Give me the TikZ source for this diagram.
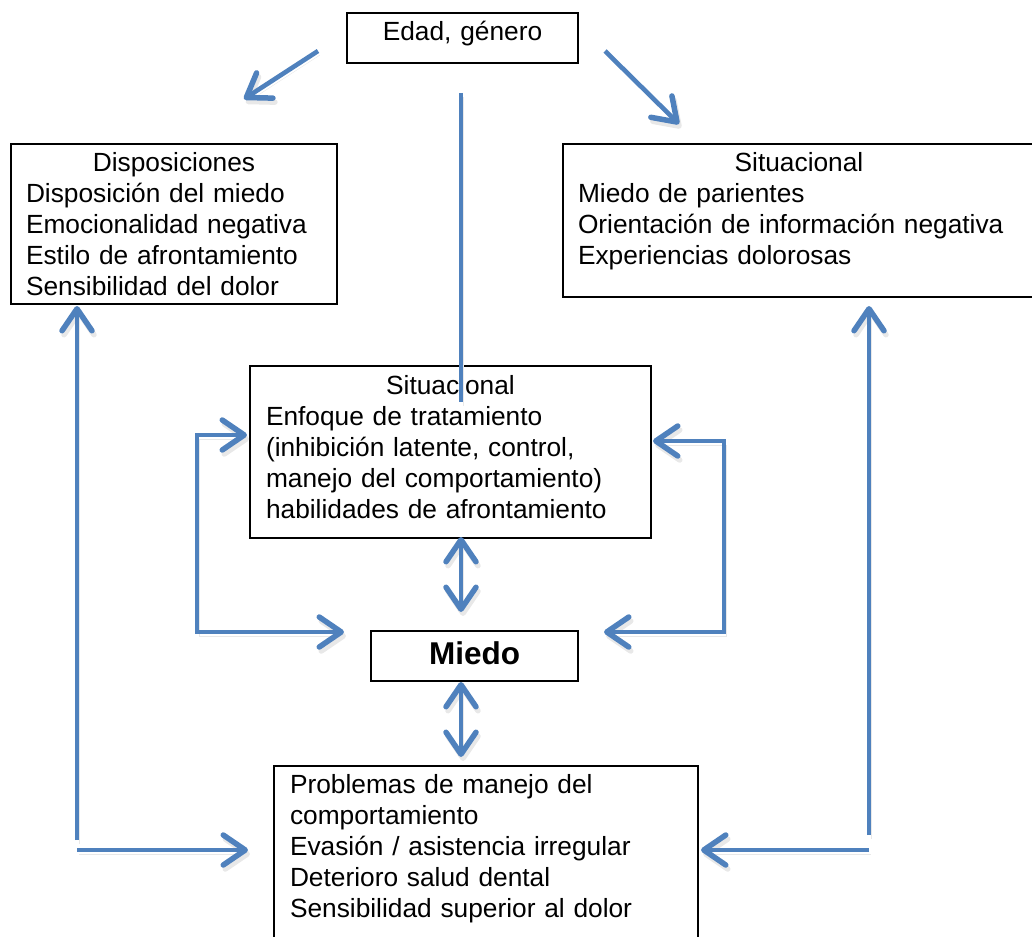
\documentclass[tikz,border=0pt]{standalone}
\usepackage{fontspec}
\setmainfont{Liberation Sans}
\usetikzlibrary{arrows.meta}
\definecolor{azul}{HTML}{4F81BD}
\tikzset{
  caja/.style={draw=black, line width=2pt, anchor=north west, inner xsep=15pt, inner ysep=0pt,
    align=left, font=\fontsize{26.3}{31}\selectfont},
  punta/.tip={Straight Barb[length=22pt,width=30pt,line width=5.5pt 0,round]},
  sombra/.style={preaction={draw=black!9, transform canvas={shift={(2pt,-4pt)}}}},
  linea/.style={draw=azul, line width=4.6pt, sombra},
  flecha/.style={linea, -punta},
  doble/.style={linea, punta-punta}
}

\begin{document}
\begin{tikzpicture}[x=1pt,y=-1pt]
		%%%%% MARCO %%%%%
		\useasboundingbox (0,0) rectangle (1032,936);
		\clip (0,0) rectangle (1032,936);
		
		%%%%% CAJAS %%%%%
		\node[caja, align=center, inner xsep=0pt, text width=231pt, text height=28pt, text depth=22pt]
			(edad) at (346,12) {Edad, género};
		
		\node[caja, text width=296pt, text height=27.5pt, text depth=132.5pt] (dispo) at (10,143)
			{\makebox[\linewidth]{Disposiciones}\\
			Disposición del miedo\\
			Emocionalidad negativa\\
			Estilo de afrontamiento\\
			Sensibilidad del dolor};
		
		\node[caja, text width=442pt, text height=27.5pt, text depth=125.5pt] (situ) at (562,143)
			{\makebox[\linewidth]{Situacional}\\
			Miedo de parientes\\
			Orientación de información negativa\\
			Experiencias dolorosas};
		
		\node[caja, inner xsep=16pt, text width=369pt, text height=28pt, text depth=144pt] (trat) at (249,365)
			{\makebox[\linewidth]{Situacional}\\
			Enfoque de tratamiento\\
			(inhibición latente, control,\\
			manejo del comportamiento)\\
			habilidades de afrontamiento};
		
		\node[caja, align=center, inner xsep=0pt, text width=207pt, text height=33pt, text depth=17pt,
			font=\bfseries\fontsize{31.5}{36}\selectfont] (miedo) at (370,630) {Miedo};
		
		\node[caja, inner xsep=16pt, text width=392pt, text height=27pt, text depth=160pt] (conse) at (273,765)
			{Problemas de manejo del\\
			comportamiento\\
			Evasión / asistencia irregular\\
			Deterioro salud dental\\
			Sensibilidad superior al dolor};
		
		%%%%% PUNTOS %%%%%
		\coordinate (e1) at (318,51);
		\coordinate (e2) at (244,99);
		\coordinate (e3) at (605,51);
		\coordinate (e4) at (679,124);
		\coordinate (v1) at (461,93);
		\coordinate (v2) at (461,402);
		\coordinate (i1) at (247,435);
		\coordinate (i2) at (197,435);
		\coordinate (i3) at (197,632);
		\coordinate (i4) at (344,632);
		\coordinate (d1) at (653,441);
		\coordinate (d2) at (724,441);
		\coordinate (d3) at (724,632);
		\coordinate (d4) at (604,632);
		\coordinate (m1) at (461,537);
		\coordinate (m2) at (461,612);
		\coordinate (m3) at (461,682);
		\coordinate (m4) at (461,757);
		\coordinate (a1) at (77,840);
		\coordinate (a2) at (77,306);
		\coordinate (a3) at (77,850);
		\coordinate (a4) at (248,850);
		\coordinate (b1) at (869,835);
		\coordinate (b2) at (869,306);
		\coordinate (b3) at (869,850);
		\coordinate (b4) at (701,850);
		
		%%%%% FLECHAS %%%%%
		\draw[flecha] (e1) -- (e2);
		\draw[flecha] (e3) -- (e4);
		\draw[linea] (v1) -- (v2);
		\draw[doble] (i1) -- (i2) -- (i3) -- (i4);
		\draw[doble] (d1) -- (d2) -- (d3) -- (d4);
		\draw[doble] (m1) -- (m2);
		\draw[doble] (m3) -- (m4);
		\draw[flecha] (a1) -- (a2);
		\draw[flecha] (a3) -- (a4);
		\draw[flecha] (b1) -- (b2);
		\draw[flecha] (b3) -- (b4);
	\end{tikzpicture}
\end{document}
